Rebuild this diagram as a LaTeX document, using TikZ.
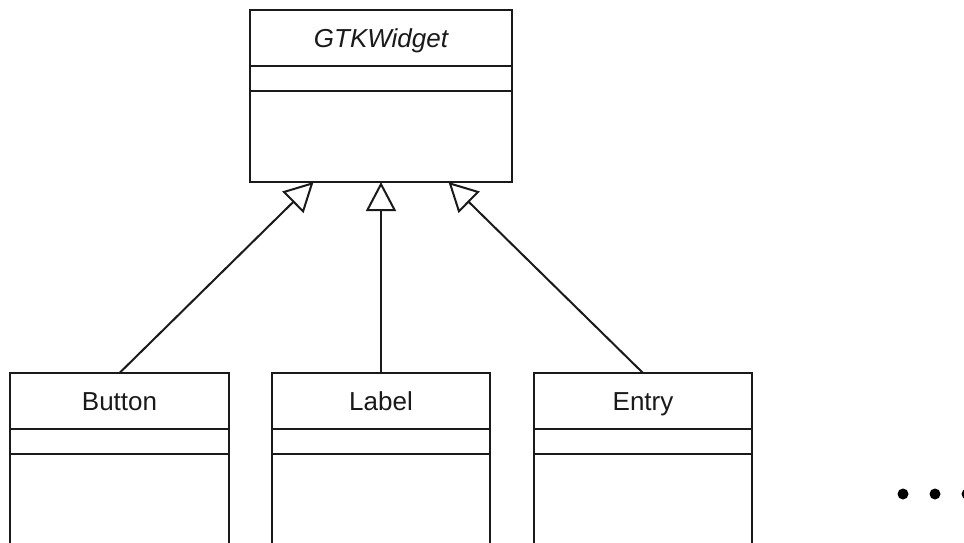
\documentclass[tikz,border=0pt]{standalone}
\usepackage{fontspec}
\setmainfont{Liberation Sans}
\usetikzlibrary{arrows.meta}

\definecolor{ink}{HTML}{1A1A1A}

\tikzset{
  part/.style={draw=ink, line width=2pt, fill=white, inner sep=0pt, outer sep=0pt,
               minimum width=#1, anchor=north},
  head/.style={part=#1, minimum height=56pt, text=ink,
               font=\fontsize{26}{30}\selectfont, text height=18.5pt, text depth=0pt},
  attrs/.style={part=#1, minimum height=25pt},
  ops/.style={part=#1, minimum height=91pt},
  inherit/.style={draw=ink, line width=2pt,
                  -{Triangle[open, length=29pt, width=30pt, line join=miter]}},
  dot/.style={circle, fill=black, inner sep=0pt, minimum size=11pt}
}

\begin{document}
\begin{tikzpicture}[x=1pt, y=-1pt]
  \clip (0,0) rectangle (964,542);
  \fill[white] (0,0) rectangle (964,542);

  % base class
  \node[head=262pt, font=\fontsize{26}{30}\itshape] (gtk) at (381,10) {GTKWidget};
  \node[attrs=262pt] (gtkA) at (gtk.south) {};
  \node[ops=262pt] (gtkM) at (gtkA.south) {};

  % derived classes (continue below the lower edge)
  \node[head=219pt] (btn) at (119.5,373) {Button};
  \node[attrs=219pt] (btnA) at (btn.south) {};
  \node[ops=219pt, minimum height=140pt] (btnM) at (btnA.south) {};

  \node[head=218pt] (lbl) at (381,373) {Label};
  \node[attrs=218pt] (lblA) at (lbl.south) {};
  \node[ops=218pt, minimum height=140pt] (lblM) at (lblA.south) {};

  \node[head=218pt] (ent) at (643,373) {Entry};
  \node[attrs=218pt] (entA) at (ent.south) {};
  \node[ops=218pt, minimum height=140pt] (entM) at (entA.south) {};

  % generalisation arrows
  \coordinate (tipL) at ([xshift=-67.5pt]gtkM.south);
  \coordinate (tipR) at ([xshift=67.5pt]gtkM.south);
  \draw[inherit] (btn.north) -- (tipL);
  \draw[inherit] (lbl.north) -- (gtkM.south);
  \draw[inherit] (ent.north) -- (tipR);

  % ellipsis
  \node[dot] (d1) at (903,494) {};
  \node[dot] (d2) at (935,494) {};
  \node[dot] (d3) at (967,494) {};
\end{tikzpicture}
\end{document}
